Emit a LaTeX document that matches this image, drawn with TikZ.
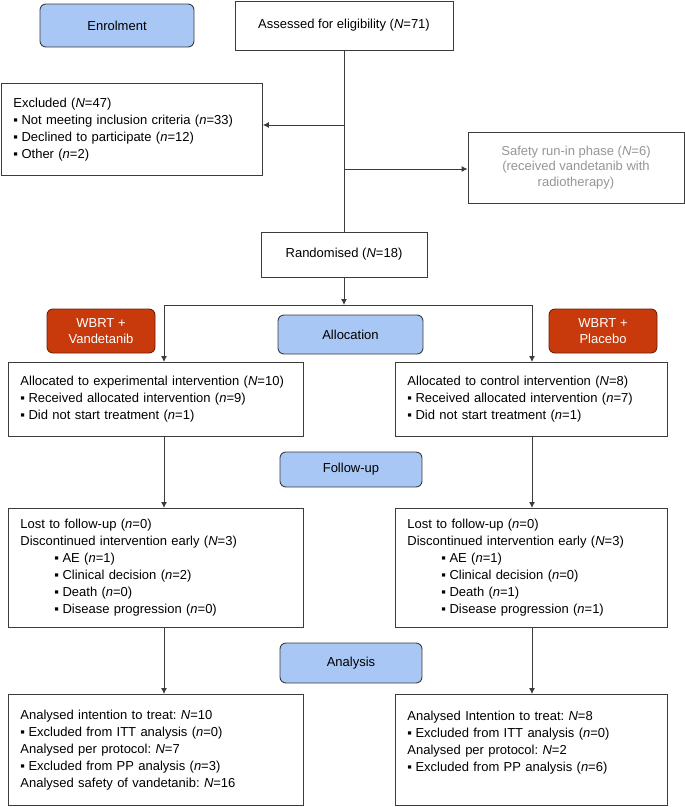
\documentclass[tikz,border=0pt]{standalone}
\usepackage{fontspec}
\setmainfont{Liberation Sans}
\usetikzlibrary{arrows.meta}
\frenchspacing
\definecolor{phaseblue}{RGB}{168,199,245}
\definecolor{armred}{RGB}{200,58,12}
\definecolor{armredline}{RGB}{110,30,5}
\definecolor{linegray}{RGB}{60,60,60}
\definecolor{textgray}{RGB}{150,150,150}
\newcommand{\bul}{▪\hspace{3.5pt}}
\newcommand{\subbul}{\hspace*{34pt}▪\hspace{3.5pt}}

\begin{document}
\begin{tikzpicture}[x=1pt, y=-1pt, >={Latex[length=6pt,width=6pt]},
    every node/.style={font=\fontsize{13}{17}\selectfont},
    box/.style={draw=linegray, line width=0.9pt, fill=white, inner sep=0pt},
    listbox/.style={box, anchor=north west, align=left, inner xsep=12pt},
    phase/.style={draw=linegray, line width=0.9pt, rounded corners=6pt, fill=phaseblue},
    arm/.style={draw=armredline, line width=0.9pt, rounded corners=6pt, fill=armred, text=white,
        align=center, minimum width=108pt, minimum height=44pt, font=\fontsize{13}{15.5}\selectfont},
    conn/.style={draw=linegray, line width=0.9pt}]
    \useasboundingbox (0,0) rectangle (685,807);

    % Enrolment
    \node[phase, minimum width=154pt, minimum height=43pt] (enrol) at (117,25.5) {Enrolment};
    \node[box, minimum width=218pt, minimum height=49pt] (assess) at (344,25.5) {Assessed for eligibility (\textit{N}=71)};
    \node[listbox, text width=237pt, minimum height=92pt] (excl) at (1,83)
        {Excluded (\textit{N}=47)\\
         \bul Not meeting inclusion criteria (\textit{n}=33)\\
         \bul Declined to participate (\textit{n}=12)\\
         \bul Other (\textit{n}=2)};
    \node[box, minimum width=216pt, minimum height=71pt, align=center, text=textgray,
        font=\fontsize{13}{15.5}\selectfont] (safety) at (576,167.5)
        {Safety run-in phase (\textit{N}=6)\\(received vandetanib with\\radiotherapy)};
    \node[box, minimum width=166pt, minimum height=45pt] (rand) at (344,254.5) {Randomised (\textit{N}=18)};

    \coordinate (exclA) at (344,125);
    \coordinate (safeA) at (344,169);
    \draw[conn] (assess.south) -- (assess.south |- rand.north);
    \draw[conn, ->] (exclA) -- (exclA -| excl.east);
    \draw[conn, ->] (safeA) -- (safeA -| safety.west);

    % Allocation
    \node[arm] (wbrtv) at (101,331) {WBRT +\\Vandetanib};
    \node[arm] (wbrtp) at (603,331) {WBRT +\\Placebo};
    \node[phase, minimum width=145pt, minimum height=39pt] (alloc) at (350.5,334.5) {Allocation};
    \node[listbox, text width=271pt, minimum height=74pt] (allocL) at (8,362)
        {Allocated to experimental intervention (\textit{N}=10)\\
         \bul Received allocated intervention (\textit{n}=9)\\
         \bul Did not start treatment (\textit{n}=1)};
    \node[listbox, text width=248pt, minimum height=74pt] (allocR) at (395,362)
        {Allocated to control intervention (\textit{N}=8)\\
         \bul Received allocated intervention (\textit{n}=7)\\
         \bul Did not start treatment (\textit{n}=1)};

    % Follow-up
    \node[phase, minimum width=142pt, minimum height=35pt] (follow) at (351,469.5) {Follow-up};
    \node[listbox, text width=271pt, minimum height=119pt] (fuL) at (8,508)
        {Lost to follow-up (\textit{n}=0)\\
         Discontinued intervention early (\textit{N}=3)\\
         \subbul AE (\textit{n}=1)\\
         \subbul Clinical decision (\textit{n}=2)\\
         \subbul Death (\textit{n}=0)\\
         \subbul Disease progression (\textit{n}=0)};
    \node[listbox, text width=248pt, minimum height=119pt] (fuR) at (395,508)
        {Lost to follow-up (\textit{n}=0)\\
         Discontinued intervention early (\textit{N}=3)\\
         \subbul AE (\textit{n}=1)\\
         \subbul Clinical decision (\textit{n}=0)\\
         \subbul Death (\textit{n}=1)\\
         \subbul Disease progression (\textit{n}=1)};

    % Analysis
    \node[phase, minimum width=142pt, minimum height=40pt] (analysis) at (351,663) {Analysis};
    \node[listbox, text width=271pt, minimum height=111pt] (anL) at (8,694)
        {Analysed intention to treat: \textit{N}=10\\
         \bul Excluded from ITT analysis (\textit{n}=0)\\
         Analysed per protocol: \textit{N}=7\\
         \bul Excluded from PP analysis (\textit{n}=3)\\
         Analysed safety of vandetanib: \textit{N}=16};
    \node[listbox, text width=248pt, minimum height=111pt] (anR) at (395,694)
        {Analysed Intention to treat: \textit{N}=8\\
         \bul Excluded from ITT analysis (\textit{n}=0)\\
         Analysed per protocol: \textit{N}=2\\
         \bul Excluded from PP analysis (\textit{n}=6)\\
         \mbox{}};

    % Arms
    \coordinate (splitC) at (344,305);
    \coordinate (splitL) at (164,305);
    \coordinate (splitR) at (532,305);
    \draw[conn, ->] (rand) -- (splitC);
    \draw[conn] (splitL) -- (splitR);
    \foreach \s in {L,R} {
        \draw[conn, ->] (split\s) -- (split\s |- alloc\s.north);
        \draw[conn, ->] (split\s |- alloc\s.south) -- (split\s |- fu\s.north);
        \draw[conn, ->] (split\s |- fu\s.south) -- (split\s |- an\s.north);
    }
\end{tikzpicture}
\end{document}
